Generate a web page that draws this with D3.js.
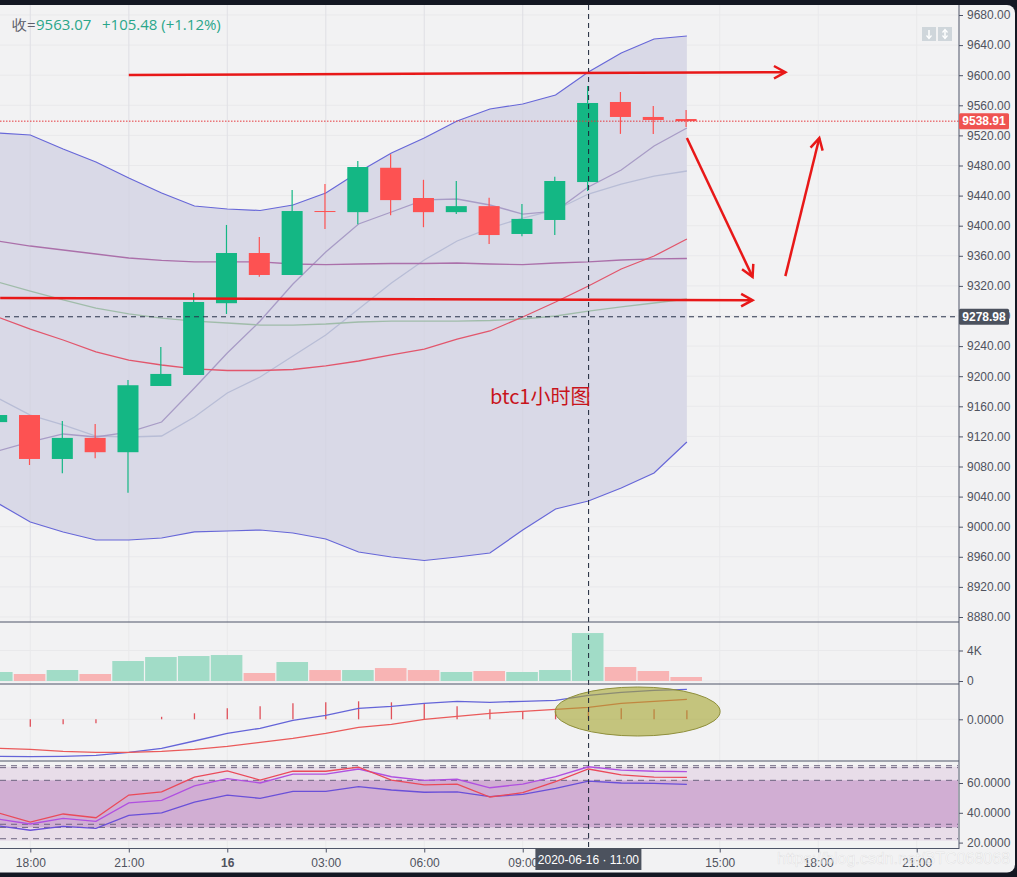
<!DOCTYPE html>
<html><head><meta charset="utf-8">
<style>html,body{margin:0;padding:0;background:#131722;overflow:hidden}svg{display:block}text{font-family:"Liberation Sans",Arial,sans-serif}</style>
<script src="https://cdn.jsdelivr.net/npm/d3@7/dist/d3.min.js"></script>
</head><body><script>
const times=["2020-06-15T17:00","2020-06-15T18:00","2020-06-15T19:00","2020-06-15T20:00","2020-06-15T21:00","2020-06-15T22:00","2020-06-15T23:00","2020-06-16T00:00","2020-06-16T01:00","2020-06-16T02:00","2020-06-16T03:00","2020-06-16T04:00","2020-06-16T05:00","2020-06-16T06:00","2020-06-16T07:00","2020-06-16T08:00","2020-06-16T09:00","2020-06-16T10:00","2020-06-16T11:00","2020-06-16T12:00","2020-06-16T13:00","2020-06-16T14:00"];
const open=[9139,9148.4,9090,9118,9099,9187,9201.6,9297,9363.7,9334.5,9419.5,9418,9477,9436.8,9418,9426,9389,9407.6,9458,9564.4,9544.5,9541.8];
const high=[9148.4,9148.4,9140.5,9136.5,9195,9238.8,9310.6,9401,9385,9447.4,9455.4,9486,9495,9461,9459.4,9437,9429,9465,9585.6,9577.7,9559,9553.8];
const low=[9139,9082,9071,9091,9045,9187,9201.6,9282.7,9332,9334.5,9395.6,9402,9414,9398,9415.5,9375.7,9386,9387.6,9446,9522,9522,9531];
const close=[9148.4,9090,9118,9099,9188,9203,9298.6,9363.7,9334.5,9419.5,9419,9478,9434,9418,9426,9387.6,9409,9459.4,9563.07,9544.5,9540.5,9538.91];
const bollUpper=[9523.2,9520.5,9501.9,9484.6,9463.4,9443.5,9426.2,9422.2,9420.2,9427.5,9443.5,9471.4,9496.6,9516.5,9539.1,9555.1,9561.7,9573.7,9604.3,9629.5,9648.1,9652.1];
const bollLower=[9031.5,9006.2,8993,8982.3,8982.3,8985,8993,8994.3,8995.6,8991.6,8983.7,8966.4,8959.7,8955.1,8959.7,8965,8995.6,9023.5,9034.2,9051.4,9071.4,9112.6];
const bollMid=[9278.7,9262.7,9248.1,9232.2,9221.5,9214.9,9209.6,9207.6,9207.6,9208.9,9213.6,9220.2,9228.2,9236.1,9249.4,9260.1,9278.7,9298.6,9319.9,9342.5,9359.7,9382.3];
const maSlowPurple=[9379.7,9373,9367.7,9362.4,9357.1,9353.8,9351.8,9351.8,9351.8,9349.1,9348.4,9349.1,9349.8,9349.8,9350.4,9349.1,9348.4,9350.4,9351.8,9354.4,9355.8,9356.4];
const maSlowGreen=[9325.2,9313.2,9301.3,9290.6,9282.7,9277.3,9273.3,9270.7,9268,9268,9269.4,9272,9273.3,9273.3,9273.3,9274,9276,9280,9286.6,9292,9297.3,9302.6];
const maFast=[9100.6,9112.6,9123.2,9119.2,9125.8,9139.1,9184.3,9230.8,9273.3,9322.5,9365,9402.3,9418.2,9434.2,9435.5,9427.5,9415.5,9419.5,9451.4,9474,9505.9,9529.8];
const maMid=[9171,9148.4,9135.2,9120.5,9119.2,9120.5,9145.8,9177.7,9198.9,9226.8,9254.8,9289.3,9323.9,9354.4,9379.7,9396.9,9410.2,9420.9,9442.1,9455.4,9466,9472.7];
const volume=[1180,917,1440,917,2620,3144,3275,3406,1048,2490,1440,1440,1700,1440,1180,1310,1180,1440,6290,1834,1310,524];
const dif=[-37,-37.3,-37,-36,-33,-29,-21.7,-14,-9,-1,4,11,13,16,18,17,18,19,24,27,29,30];
const dea=[-29,-30,-32,-33,-33,-32,-30,-27,-23,-19,-14,-8,-5,0,3,6,8,10,12,16,18,20];
const hist=[-6,-7.5,-5,-4,0,2.5,6,11,13,16,17,18,17,16,13,10,8,8,9,11,10,9];
const rsiFast=[40.1,33.8,39.2,36.7,51.9,54,64,68.1,62,67.9,67.9,70.7,62,58.7,59.3,50.6,53.5,60.9,69.4,65.4,64,63.8];
const rsiMid=[35.8,32.5,36.3,34.3,46.6,48.4,58,62.9,60,66,66,69.4,64.2,61.8,62.5,56.8,59.3,64.2,70.9,68.7,67.9,67.6];
const rsiSlow=[31.3,28.3,30.9,29.6,38.3,39.9,47.2,51.9,49.7,54.4,54.4,57.5,55.3,53.8,54,50.8,52.4,56.4,61.3,60,59.8,59.1];
const rsiLevels=[71.6,70.3,61.8,32.3,30.2,22.6];
const priceTicks=d3.range(8880,9681,40);
const volumeTicks=[0,4000];
const macdTicks=[0];
const rsiTicks=[60,40,20];
const timeTicks=["2020-06-15T18:00","2020-06-15T21:00","2020-06-16T00:00","2020-06-16T03:00","2020-06-16T06:00","2020-06-16T09:00","2020-06-16T15:00","2020-06-16T18:00","2020-06-16T21:00"];
const lastPrice=9538.91, crossPrice=9278.98, crossTime="2020-06-16T11:00";
const arrows=[
 [["2020-06-15T21:00",9600.3],["2020-06-16T17:00",9604]],
 [["2020-06-15T17:05",9304],["2020-06-16T16:00",9301]],
 [["2020-06-16T14:00",9516.5],["2020-06-16T16:00",9332]],
 [["2020-06-16T17:00",9333],["2020-06-16T18:02",9516.5]]
];

const W=1017,H=877,axisX=959;
const T=s=>new Date(s);
const x=d3.scaleTime().domain([T("2020-06-15T18:00"),T("2020-06-16T21:00")]).range([30.3,916.7]);
const y=d3.scaleLinear().domain([9680,8880]).range([15,617]);
const yV=d3.scaleLinear().domain([0,4000]).range([681,650.5]);
const yM=d3.scaleLinear().domain([0,30]).range([719.3,689.3]);
const yR=d3.scaleLinear().domain([60,40]).range([783,812.8]);
const cx=d=>x(T(d))-0.8;
const svg=d3.select("body").append("svg").attr("width",W).attr("height",H);
const GREEN="#14b784",RED="#fd5252",AXIS="#50535e",LINE="#4f5568";
svg.append("rect").attr("width",W).attr("height",H).attr("fill","#131722");
svg.append("rect").attr("x",-12).attr("y",5).attr("width",1027).attr("height",867.5).attr("rx",8).attr("fill","#f2f2f3");
const defs=svg.append("defs");
[["cM",5,617],["cV",622,62],["cD",684,77],["cR",761,87.5]].forEach(([id,t,h])=>defs.append("clipPath").attr("id",id).append("rect").attr("x",0).attr("y",t).attr("width",axisX).attr("height",h));
const gM=svg.append("g").attr("clip-path","url(#cM)"),gV=svg.append("g").attr("clip-path","url(#cV)"),gD=svg.append("g").attr("clip-path","url(#cD)"),gR=svg.append("g").attr("clip-path","url(#cR)");
const GRID="#e9e9eb";
[[gM,5,622],[gV,622,684],[gD,684,761],[gR,761,849]].forEach(([g,a,b])=>g.selectAll(".v").data(timeTicks).join("line").attr("x1",d=>x(T(d))).attr("x2",d=>x(T(d))).attr("y1",a).attr("y2",b).attr("stroke",GRID));
gM.selectAll(".h").data(priceTicks).join("line").attr("x1",0).attr("x2",axisX).attr("y1",d=>y(d)).attr("y2",d=>y(d)).attr("stroke",GRID);
gV.selectAll(".h").data(volumeTicks).join("line").attr("x1",0).attr("x2",axisX).attr("y1",d=>yV(d)).attr("y2",d=>yV(d)).attr("stroke",GRID);
gD.selectAll(".h").data(macdTicks).join("line").attr("x1",0).attr("x2",axisX).attr("y1",d=>yM(d)).attr("y2",d=>yM(d)).attr("stroke",GRID);

// Bollinger fill
const idx=d3.range(times.length), tx=i=>x(T(times[i]));
gM.append("path").attr("fill","#d9d9e7").attr("d",d3.area().x(tx).y0(i=>y(bollLower[i])).y1(i=>y(bollUpper[i]))(idx));
gM.selectAll(".v3").data(timeTicks.slice(0,6)).join("line").attr("x1",d=>x(T(d))).attr("x2",d=>x(T(d))).attr("y1",5).attr("y2",622).attr("stroke","#d0d0dc").attr("stroke-opacity",.35);
const ln=(g,s,arr,c,w)=>g.append("path").attr("fill","none").attr("stroke",c).attr("stroke-width",w).attr("d",d3.line().x(tx).y(i=>s(arr[i]))(idx));
ln(gM,y,maMid,"#b8bdd6",1.3);
ln(gM,y,maFast,"#a89cc6",1.3);
ln(gM,y,maSlowGreen,"#a0bcaa",1.3);
ln(gM,y,maSlowPurple,"#ab70aa",1.3);
ln(gM,y,bollMid,"#e2566c",1.3);
ln(gM,y,bollUpper,"#6767d8",1.2);
ln(gM,y,bollLower,"#6767d8",1.2);

// candles
const col=i=>close[i]>=open[i]?GREEN:RED;
gM.selectAll(".w").data(idx).join("line").attr("x1",i=>cx(times[i])).attr("x2",i=>cx(times[i])).attr("y1",i=>y(high[i])).attr("y2",i=>y(low[i])).attr("stroke",col).attr("stroke-width",1.2);
gM.selectAll(".b").data(idx).join("rect").attr("x",i=>cx(times[i])-10.5).attr("width",21)
 .attr("y",i=>y(Math.max(open[i],close[i]))).attr("height",i=>Math.max(1,Math.abs(y(open[i])-y(close[i])))).attr("fill",col);

// last price & cross
gM.append("line").attr("x1",0).attr("x2",axisX).attr("y1",y(lastPrice)).attr("y2",y(lastPrice)).attr("stroke","#e5383d").attr("stroke-dasharray","1.5 1.5");
gM.append("line").attr("x1",5).attr("x2",axisX).attr("y1",y(crossPrice)).attr("y2",y(crossPrice)).attr("stroke","#28324a").attr("stroke-dasharray","5 4");

// volume
gV.selectAll("rect").data(idx).join("rect").attr("x",i=>cx(times[i])-15.7).attr("width",31.6).attr("y",i=>yV(volume[i])).attr("height",i=>yV(0)-yV(volume[i])).attr("fill",i=>close[i]>=open[i]?"#a1dcc7":"#f8b4b4");

// MACD
gD.selectAll(".hb").data(idx).join("line").attr("x1",tx).attr("x2",tx).attr("y1",yM(0)).attr("y2",i=>yM(hist[i])).attr("stroke","#e0505a").attr("stroke-width",1.3);
ln(gD,yM,dif,"#6464d8",1.3);
ln(gD,yM,dea,"#ea5a5a",1.3);
svg.append("ellipse").attr("cx",x(T("2020-06-16T12:30"))).attr("cy",yM(7.8)).attr("rx",82.5).attr("ry",24.5).attr("fill","#a5a52e").attr("fill-opacity",.6).attr("stroke","#8f8f3c").attr("stroke-width",1);

// RSI bands
gR.append("rect").attr("x",0).attr("width",axisX-1).attr("y",yR(rsiLevels[0])+1).attr("height",yR(rsiLevels[5])-yR(rsiLevels[0])+1).attr("fill","#e8dde9");
gR.append("rect").attr("x",0).attr("width",axisX-1).attr("y",yR(rsiLevels[2])).attr("height",yR(rsiLevels[4])-yR(rsiLevels[2])).attr("fill","#d1aed3");
gR.selectAll(".l").data(rsiLevels).join("line").attr("x1",0).attr("x2",axisX-1).attr("y1",d=>yR(d)).attr("y2",d=>yR(d)).attr("stroke","#6e6480").attr("stroke-dasharray","6 5");
ln(gR,yR,rsiSlow,"#6a50d8",1.3);
ln(gR,yR,rsiMid,"#b050e0",1.3);
ln(gR,yR,rsiFast,"#ea4a5a",1.3);

// vertical cross
svg.append("line").attr("x1",x(T(crossTime))+.2).attr("x2",x(T(crossTime))+.2).attr("y1",5).attr("y2",849).attr("stroke","#1c2538").attr("stroke-dasharray","5 4");

// pane borders
[622,684,761,848.5].forEach(v=>svg.append("line").attr("x1",0).attr("x2",axisX).attr("y1",v).attr("y2",v).attr("stroke",LINE));
svg.append("line").attr("x1",axisX).attr("x2",axisX).attr("y1",5).attr("y2",849).attr("stroke",LINE);
const style=g=>{g.selectAll("text").attr("fill",AXIS).style("font-size","12px");g.selectAll("line").attr("stroke",LINE);g.select(".domain").remove();};
svg.append("g").attr("transform",`translate(${axisX},0)`).call(d3.axisRight(y).tickValues(priceTicks).tickSize(4).tickPadding(4).tickFormat(d3.format(".2f"))).call(style);
svg.append("g").attr("transform",`translate(${axisX},0)`).call(d3.axisRight(yV).tickValues(volumeTicks).tickSize(4).tickPadding(4).tickFormat(d=>d?d/1000+"K":"0")).call(style);
svg.append("g").attr("transform",`translate(${axisX},0)`).call(d3.axisRight(yM).tickValues(macdTicks).tickSize(4).tickPadding(4).tickFormat(d3.format(".4f"))).call(style);
svg.append("g").attr("transform",`translate(${axisX},0)`).call(d3.axisRight(yR).tickValues(rsiTicks).tickSize(4).tickPadding(4).tickFormat(d3.format(".4f"))).call(style);
const fmtT=d3.timeFormat("%H:%M");
const gx=svg.append("g").attr("transform","translate(0,848.5)").call(d3.axisBottom(x).tickValues(timeTicks.map(T)).tickSize(4).tickPadding(6).tickFormat(d=>d.getHours()===0?"16":fmtT(d))).call(style);
gx.selectAll("text").attr("font-weight",d=>d.getHours()===0?"bold":null);

// price labels
const tag=(py,c,s,b)=>{const g=svg.append("g");g.append("rect").attr("x",axisX).attr("y",py-8).attr("width",50).attr("height",16).attr("rx",1.5).attr("fill",c);
 g.append("text").attr("x",axisX+25).attr("y",py+4).attr("text-anchor","middle").attr("fill","#fff").attr("font-weight",b).style("font-size","12px").text(s);};
tag(y(lastPrice),"#ef5350",d3.format(".2f")(lastPrice),"bold");
tag(y(crossPrice),"#4c525e",d3.format(".2f")(crossPrice),"bold");
// time label
const tl=svg.append("g"),tc=x(T(crossTime));
tl.append("rect").attr("x",tc-53).attr("y",848).attr("width",106).attr("height",22).attr("fill","#4c525e");
tl.append("text").attr("x",tc).attr("y",863.5).attr("text-anchor","middle").attr("fill","#fff").style("font-size","12px").text("2020-06-16 · 11:00");

// legend
const leg=svg.append("text").attr("y",30).style("font-family",'"Open Sans","Liberation Sans",sans-serif').style("font-size","15px");
leg.append("tspan").attr("x",12).attr("fill","#5d606b").text("收=");
leg.append("tspan").attr("x",36).attr("fill","#2aa68a").text("9563.07");
leg.append("tspan").attr("x",102).attr("fill","#2aa68a").text("+105.48 (+1.12%)");

// corner icons
[922,938].forEach((ix,k)=>{const g=svg.append("g");g.append("rect").attr("x",ix).attr("y",27).attr("width",14).attr("height",14).attr("fill","#cfd6db");
 g.append("line").attr("x1",ix+7).attr("x2",ix+7).attr("y1",30).attr("y2",38).attr("stroke","#fff").attr("stroke-width",1.5);
 g.append("path").attr("d",`M${ix+4.5} 35.5L${ix+7} 38.5L${ix+9.5} 35.5`).attr("fill","none").attr("stroke","#fff").attr("stroke-width",1.2);
 if(k)g.append("path").attr("d",`M${ix+4.5} 32.5L${ix+7} 29.5L${ix+9.5} 32.5`).attr("fill","none").attr("stroke","#fff").attr("stroke-width",1.2);});

// hand-drawn annotations
const ARROW="#e81818";
arrows.forEach(a=>{const x0=x(T(a[0][0])),y0=y(a[0][1]),x1=x(T(a[1][0])),y1=y(a[1][1]);
 const g=svg.append("g").attr("fill","none").attr("stroke",ARROW).attr("stroke-width",2.5);
 g.append("line").attr("x1",x0).attr("y1",y0).attr("x2",x1).attr("y2",y1);
 const an=Math.atan2(y1-y0,x1-x0),L=13,sp=.5;
 g.append("path").attr("d",d3.line()([[x1-L*Math.cos(an-sp),y1-L*Math.sin(an-sp)],[x1,y1],[x1-L*Math.cos(an+sp),y1-L*Math.sin(an+sp)]]));});
svg.append("text").attr("x",x(T("2020-06-16T08:00"))).attr("y",y(9163)).attr("fill","#c8141c").style("font-family",'"Noto Sans CJK SC",sans-serif').style("font-size","20px").text("btc1小时图");

// watermark
svg.append("text").attr("x",777).attr("y",864).attr("fill","#ffffff").attr("fill-opacity",.6).attr("stroke","#9a9a9a").attr("stroke-opacity",.22).attr("stroke-width",.6).style("font-size","16px").text("https://blog.csdn.net/BTC068068");
</script></body></html>
